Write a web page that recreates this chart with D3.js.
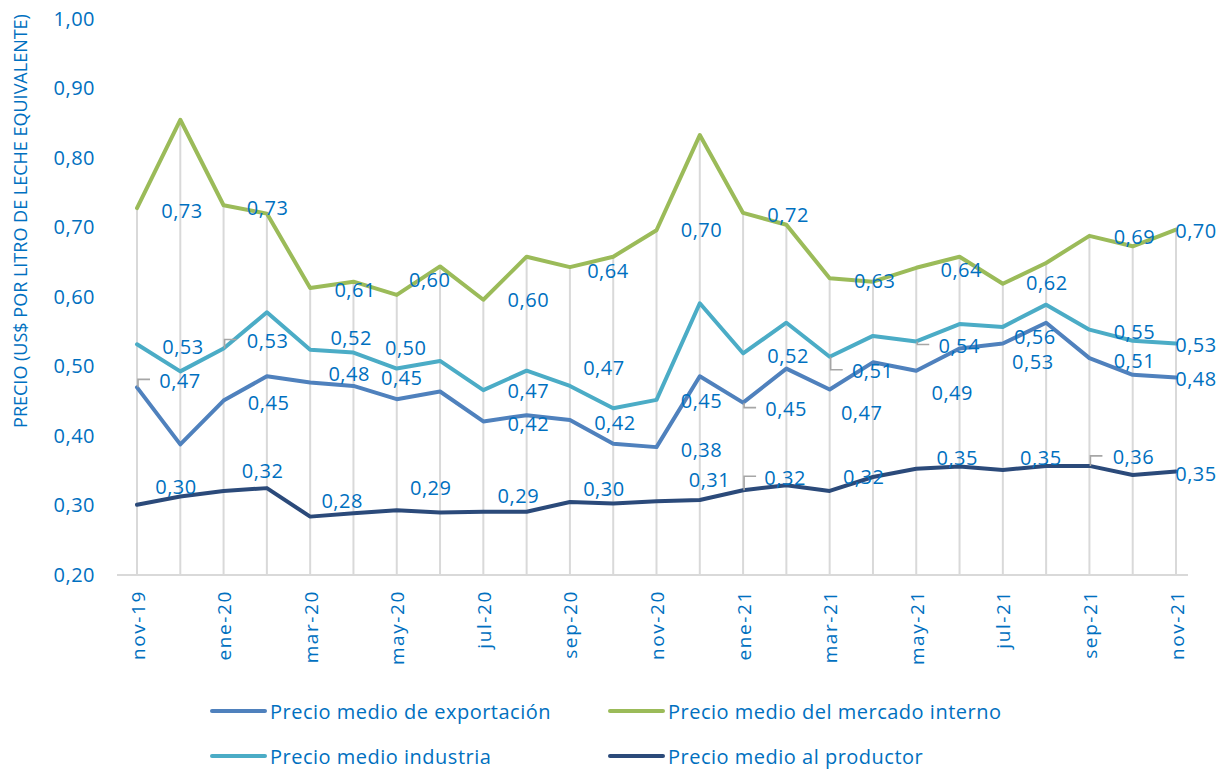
<!DOCTYPE html>
<html>
<head>
<meta charset="utf-8">
<script src="https://cdn.jsdelivr.net/npm/d3@7"></script>
<style>
  html, body { margin: 0; padding: 0; background: #ffffff; }
  svg { display: block; font-family: "Open Sans", "Noto Sans", sans-serif; }
</style>
</head>
<body>
<svg id="chart" width="1228" height="769"></svg>
<script>
// ---------- data ----------
const months = ["nov-19","dic-19","ene-20","feb-20","mar-20","abr-20","may-20","jun-20","jul-20","ago-20","sep-20","oct-20",
                "nov-20","dic-20","ene-21","feb-21","mar-21","abr-21","may-21","jun-21","jul-21","ago-21","sep-21","oct-21","nov-21"];
const tickLabels = ["nov-19","ene-20","mar-20","may-20","jul-20","sep-20","nov-20","ene-21","mar-21","may-21","jul-21","sep-21","nov-21"];
const yTicks = [0.2,0.3,0.4,0.5,0.6,0.7,0.8,0.9,1.0];

const exportacion = [0.470,0.388,0.451,0.486,0.477,0.472,0.453,0.464,0.421,0.430,0.423,0.389,0.384,
                     0.486,0.448,0.497,0.467,0.506,0.494,0.526,0.533,0.563,0.512,0.488,0.484];
const mercadoInterno = [0.728,0.855,0.732,0.720,0.613,0.622,0.603,0.644,0.596,0.658,0.643,0.658,0.696,
                        0.833,0.721,0.704,0.627,0.622,0.642,0.658,0.619,0.649,0.688,0.673,0.697];
const industria = [0.532,0.493,0.526,0.578,0.524,0.520,0.497,0.508,0.466,0.494,0.472,0.440,0.452,
                   0.591,0.519,0.563,0.514,0.544,0.536,0.561,0.557,0.589,0.553,0.537,0.533];
const productor = [0.301,0.313,0.321,0.325,0.284,0.289,0.293,0.290,0.291,0.291,0.305,0.303,0.306,
                   0.308,0.322,0.329,0.321,0.341,0.353,0.356,0.351,0.357,0.357,0.344,0.349];

const seriesNames = ["Precio medio de exportación","Precio medio del mercado interno","Precio medio industria","Precio medio al productor"];
const yTitle = "PRECIO (US$ POR LITRO DE LECHE EQUIVALENTE)";

// ---------- layout / style ----------
const colors = ["#4F81BD","#9BBB59","#4BACC6","#2B4A7A"];
const textColor = "#0070C0";
const plot = {left: 137, right: 1176, top: 19, bottom: 575};

// label nudges (dx, dy px from the point) for labelled points (even indices)
const labelIdx = [0,2,4,6,8,10,12,14,16,18,20,22,24];
const nudges = {
  0: [[43,-7],[45,2],[39,-9],[5,-22],[45,2],[45,2],[45,2],[43,6],[32,23],[36,22],[30,18],[45,2],[20,1]],
  1: [[45,2],[44,2],[45,2],[33,-15],[45,0],[38,3],[45,-1],[45,2],[45,2],[45,2],[44,-1],[45,1],[20,1]],
  2: [[46,2],[44,-8],[41,-12],[9,-21],[45,0],[34,-18],[45,1],[45,2],[43,14],[43,4],[32,10],[45,2],[20,1]],
  3: [[39,-18],[39,-20],[32,-16],[34,-23],[35,-16],[34,-14],[53,-22],[42,-13],[34,-14],[41,-11],[38,-13],[44,-9],[20,2]]
};
// leader lines: [series, position in labelIdx]
const leaders = [[0,0],[0,7],[2,1],[2,8],[2,9],[3,7],[3,11]];

// ---------- drawing ----------
const svg = d3.select("#chart");
const x = d3.scaleLinear().domain([0, months.length - 1]).range([plot.left, plot.right]);
const y = d3.scaleLinear().domain([0.2, 1.0]).range([plot.bottom, plot.top]);
const fmt = v => d3.format(".2f")(v).replace(".", ",");
const allSeries = [exportacion, mercadoInterno, industria, productor];

// drop lines
svg.append("g").selectAll("line").data(months).join("line")
  .attr("x1", (d,i) => x(i)).attr("x2", (d,i) => x(i))
  .attr("y1", (d,i) => y(d3.max(allSeries, s => s[i])))
  .attr("y2", plot.bottom)
  .attr("stroke", "#d9d9d9").attr("stroke-width", 2);

// x axis line
svg.append("line").attr("x1", plot.left - 20).attr("x2", plot.right + 12)
  .attr("y1", plot.bottom).attr("y2", plot.bottom)
  .attr("stroke", "#d9d9d9").attr("stroke-width", 2);

// y axis ticks
const yAxis = d3.axisLeft(y).tickValues(yTicks).tickSize(0).tickPadding(0).tickFormat(fmt);
const gy = svg.append("g").attr("transform", "translate(95,0)").call(yAxis);
gy.select(".domain").remove();
gy.selectAll("text").attr("fill", textColor).style("font-size", "20px").style("letter-spacing", "0.5px")
  .style("font-family", '"Open Sans", sans-serif');

// x labels
const xAxis = d3.axisBottom(x).tickValues(d3.range(0, months.length, 2))
  .tickSize(0).tickPadding(0).tickFormat(i => months[i]);
const gx = svg.append("g").attr("transform", `translate(0,${plot.bottom})`).call(xAxis);
gx.select(".domain").remove();
gx.selectAll("text")
  .attr("fill", textColor).style("font-size", "19px").style("letter-spacing", "1.6px")
  .style("font-family", '"Open Sans", sans-serif')
  .attr("text-anchor", "end").attr("dy", null)
  .attr("transform", "translate(0,15) rotate(-90)")
  .attr("dominant-baseline", "central").attr("y", 0).attr("x", 0);

// y title
svg.append("text").attr("transform", "translate(20,221) rotate(-90)")
  .attr("text-anchor", "middle").attr("dominant-baseline", "central")
  .attr("fill", textColor).style("font-size", "18px").text(yTitle);

// lines
const line = d3.line().x((d,i) => x(i)).y(d => y(d));
allSeries.forEach((s, k) => {
  svg.append("path").datum(s).attr("d", line).attr("fill", "none")
    .attr("stroke", colors[k]).attr("stroke-width", 4).attr("stroke-linejoin", "round").attr("stroke-linecap", "round");
});

// leader lines
leaders.forEach(([k, p]) => {
  const i = labelIdx[p];
  const px = x(i) + 1, py = y(allSeries[k][i]);
  const ly = py + nudges[k][p][1] - 1;
  svg.append("path").attr("d", `M${px},${py}V${ly}H${px + 12}`)
    .attr("fill", "none").attr("stroke", "#a6a6a6").attr("stroke-width", 1.6);
});

// data labels
allSeries.forEach((s, k) => {
  svg.append("g").selectAll("text").data(labelIdx).join("text")
    .attr("x", (i, p) => x(i) + nudges[k][p][0])
    .attr("y", (i, p) => y(s[i]) + nudges[k][p][1])
    .attr("text-anchor", "middle").attr("dominant-baseline", "central")
    .attr("fill", textColor).style("font-size", "20px").style("letter-spacing", "0.5px")
    .text(i => fmt(s[i]));
});

// legend
const legendPos = [[212, 711],[610, 711],[212, 756],[610, 756]];
seriesNames.forEach((name, k) => {
  const [lx, ly] = legendPos[k];
  svg.append("line").attr("x1", lx).attr("x2", lx + 53).attr("y1", ly).attr("y2", ly)
    .attr("stroke", colors[k]).attr("stroke-width", 4).attr("stroke-linecap", "round");
  svg.append("text").attr("x", lx + 58).attr("y", ly).attr("dominant-baseline", "central")
    .attr("fill", textColor).style("font-size", "20px").style("letter-spacing", "0.5px").text(name);
});
</script>
</body>
</html>
